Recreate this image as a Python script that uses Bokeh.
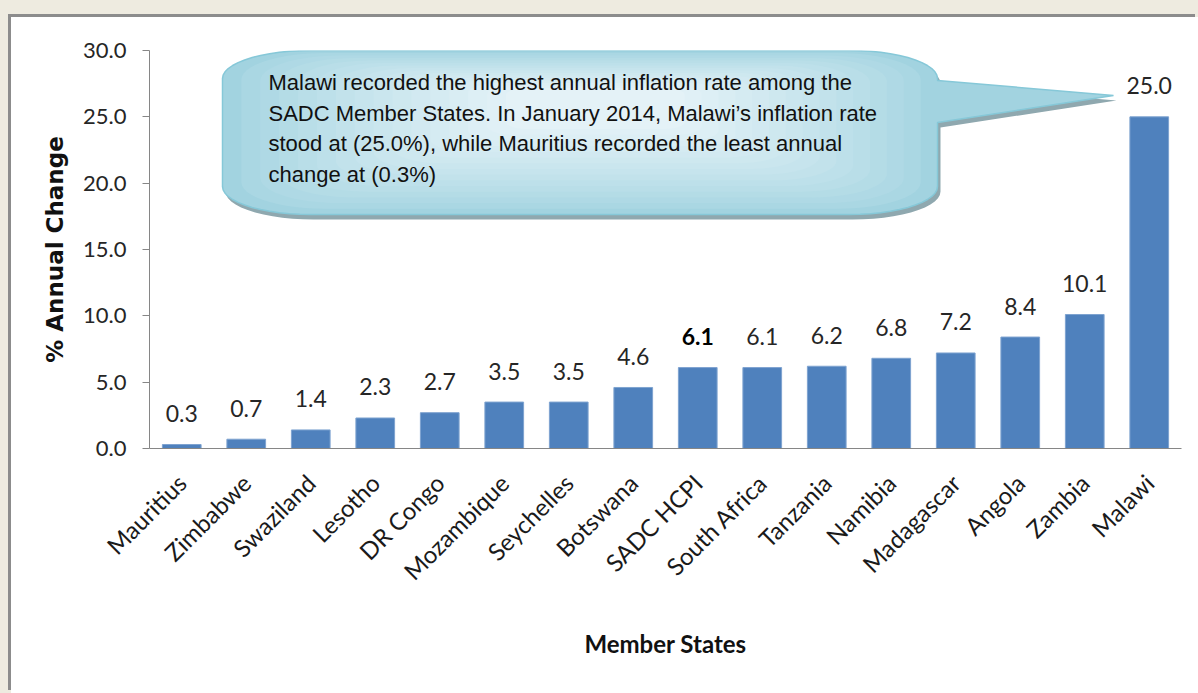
import numpy as np
from bokeh.plotting import figure
from bokeh.models import Range1d, FixedTicker, ColumnDataSource, LabelSet, Label, NumeralTickFormatter
from bokeh.core.properties import value
from bokeh.embed import file_html
from bokeh.resources import INLINE

# ---------------- data ----------------
states = ["Mauritius", "Zimbabwe", "Swaziland", "Lesotho", "DR Congo", "Mozambique",
          "Seychelles", "Botswana", "SADC HCPI", "South Africa", "Tanzania", "Namibia",
          "Madagascar", "Angola", "Zambia", "Malawi"]
rates = [0.3, 0.7, 1.4, 2.3, 2.7, 3.5, 3.5, 4.6, 6.1, 6.1, 6.2, 6.8, 7.2, 8.4, 10.1, 25.0]
y_ticks = [0, 5, 10, 15, 20, 25, 30]
highlight = "SADC HCPI"
note_lines = [
    "Malawi recorded the highest annual inflation rate among the",
    "SADC Member States. In January 2014, Malawi\u2019s inflation rate",
    "stood at (25.0%), while Mauritius recorded the least annual",
    "change at (0.3%)",
]
y_title = "% Annual Change"
x_title = "Member States"

# ---------------- layout (page pixels) ----------------
OFF_X, OFF_Y = 11, 17                   # figure offset on the page (inside beige frame)
FIG_W, FIG_H = 1187, 676
L, T, R, B = 149, 50, 1181, 448         # plot frame on the page
BL, BT = L - OFF_X, T - OFF_Y
BR, BB = OFF_X + FIG_W - R, OFF_Y + FIG_H - B
N = len(states)
YMAX = 30.0

def dx(px):
    return (np.asarray(px, dtype=float) - L) / (R - L) * N

def dy(py):
    return (B - np.asarray(py, dtype=float)) / (B - T) * YMAX

p = figure(width=FIG_W, height=FIG_H, output_backend="svg", toolbar_location=None,
           x_range=Range1d(0, N), y_range=Range1d(0, YMAX),
           min_border_left=BL, min_border_top=BT, min_border_right=BR, min_border_bottom=BB)
p.styles = {"margin-left": f"{OFF_X}px", "margin-top": f"{OFF_Y}px",
            "box-shadow": "-3px -3px 0 0 #8c8c8c, 0 0 0 40px #EEEBE0"}
p.border_fill_color = "white"
p.background_fill_color = "white"
p.outline_line_color = None
p.xgrid.visible = False
p.ygrid.visible = False

# ---------------- bars ----------------
xs = [i + 0.5 for i in range(N)]
src = ColumnDataSource(dict(x=xs, top=rates))
p.vbar(x="x", top="top", width=0.6, source=src, fill_color="#4F81BD", line_color="#7EA3D0", line_width=1)

norm = ColumnDataSource(dict(
    x=[x for x, s in zip(xs, states) if s != highlight],
    y=[v for v, s in zip(rates, states) if s != highlight],
    t=[f"{v:.1f}" for v, s in zip(rates, states) if s != highlight]))
bold = ColumnDataSource(dict(
    x=[x for x, s in zip(xs, states) if s == highlight],
    y=[v for v, s in zip(rates, states) if s == highlight],
    t=[f"{v:.1f}" for v, s in zip(rates, states) if s == highlight]))
for s_, st in ((norm, "normal"), (bold, "bold")):
    p.add_layout(LabelSet(x="x", y="y", text="t", source=s_, y_offset=31,
                          text_align="center", text_baseline="middle",
                          text_font=value("Lato"), text_font_size=value("23px"),
                          text_font_style=value(st),
                          text_color=value("#262626" if st == "normal" else "#000000")))

# ---------------- axes ----------------
ax = p.yaxis[0]
ax.ticker = FixedTicker(ticks=y_ticks)
ax.formatter = NumeralTickFormatter(format="0.0")
ax.axis_line_color = "#868686"
ax.major_tick_line_color = "#868686"
ax.major_tick_out = 7
ax.major_tick_in = 0
ax.minor_tick_line_color = None
ax.major_label_standoff = 16
ax.major_label_text_font = "Lato"
ax.major_label_text_font_size = "22px"
ax.major_label_text_color = "#262626"
ax.axis_label = y_title
ax.axis_label_text_font = "DejaVu Sans"
ax.axis_label_text_font_style = "bold"
ax.axis_label_text_font_size = "23px"
ax.axis_label_text_color = "#111111"
ax.axis_label_standoff = 12

bx = p.xaxis[0]
bx.ticker = FixedTicker(ticks=xs)
bx.major_label_overrides = {x: s for x, s in zip(xs, states)}
bx.major_label_orientation = np.pi / 4
bx.axis_line_color = "#868686"
bx.major_tick_line_color = None
bx.minor_tick_line_color = None
bx.major_tick_out = 0
bx.major_tick_in = 0
bx.major_label_standoff = 30
bx.major_label_text_font = "Lato"
bx.major_label_text_font_size = "24px"
bx.major_label_text_color = "#1a1a1a"
bx.axis_label = x_title
bx.axis_label_text_font = "Lato"
bx.axis_label_text_font_style = "bold"
bx.axis_label_text_font_size = "24px"
bx.axis_label_text_color = "#111111"
bx.axis_label_standoff = 30

# ---------------- callout ----------------
def shape(l, r, t, b, rx, ry, pointer=None, n=14):
    pts = []
    def arc(cx, cy, a0, a1):
        for a in np.linspace(np.radians(a0), np.radians(a1), n):
            pts.append((cx + rx * np.cos(a), cy + ry * np.sin(a)))
    arc(l + rx, t + ry, 180, 270)
    arc(r - rx, t + ry, 270, 360)
    if pointer is not None:
        y0, tipx, tipy, y1 = pointer
        pts += [(r, y0), (tipx, tipy), (r, y1)]
    arc(r - rx, b - ry, 0, 90)
    arc(l + rx, b - ry, 90, 180)
    a = np.array(pts)
    return a[:, 0], a[:, 1]

CL, CR, CT, CB, CRX, CRY = 222, 937, 50, 214, 88, 28
PTR = (80, 1113, 95, 122)

sx, sy = shape(CL, CR, CT, CB, CRX, CRY, PTR)
p.patch(dx(sx + 3), dy(sy + 5), fill_color="#8FA8AF", line_color=None)
p.patch(dx(sx), dy(sy), fill_color="#A2D3E0", line_color=None)

outer = np.array([162, 211, 224])
inner = np.array([228, 242, 247])
cx, cy = 600, 100
nl = 16
for k in range(1, nl):
    s = 1 - 0.8 * k / nl
    f = (k / (nl - 1)) ** 0.8
    c = outer + (inner - outer) * f
    col = "#%02x%02x%02x" % tuple(int(round(v)) for v in c)
    lx, ly = shape(cx + (CL - cx) * s, cx + (CR - cx) * s, cy + (CT - cy) * s, cy + (CB - cy) * s,
                   CRX * s, CRY * s)
    p.patch(dx(lx), dy(ly), fill_color=col, line_color=None)

p.patch(dx(sx), dy(sy), fill_alpha=0, line_color="#86C8D8", line_width=1.5)

line_y = [82, 113, 143, 174]
for txt, yy in zip(note_lines, line_y):
    p.add_layout(Label(x=float(dx(268)), y=float(dy(yy)), text=txt, text_align="left",
                       text_baseline="middle", text_font="Liberation Sans",
                       text_font_size="22px", text_color="#111111"))

open("out.html", "w").write(file_html(p, INLINE))
